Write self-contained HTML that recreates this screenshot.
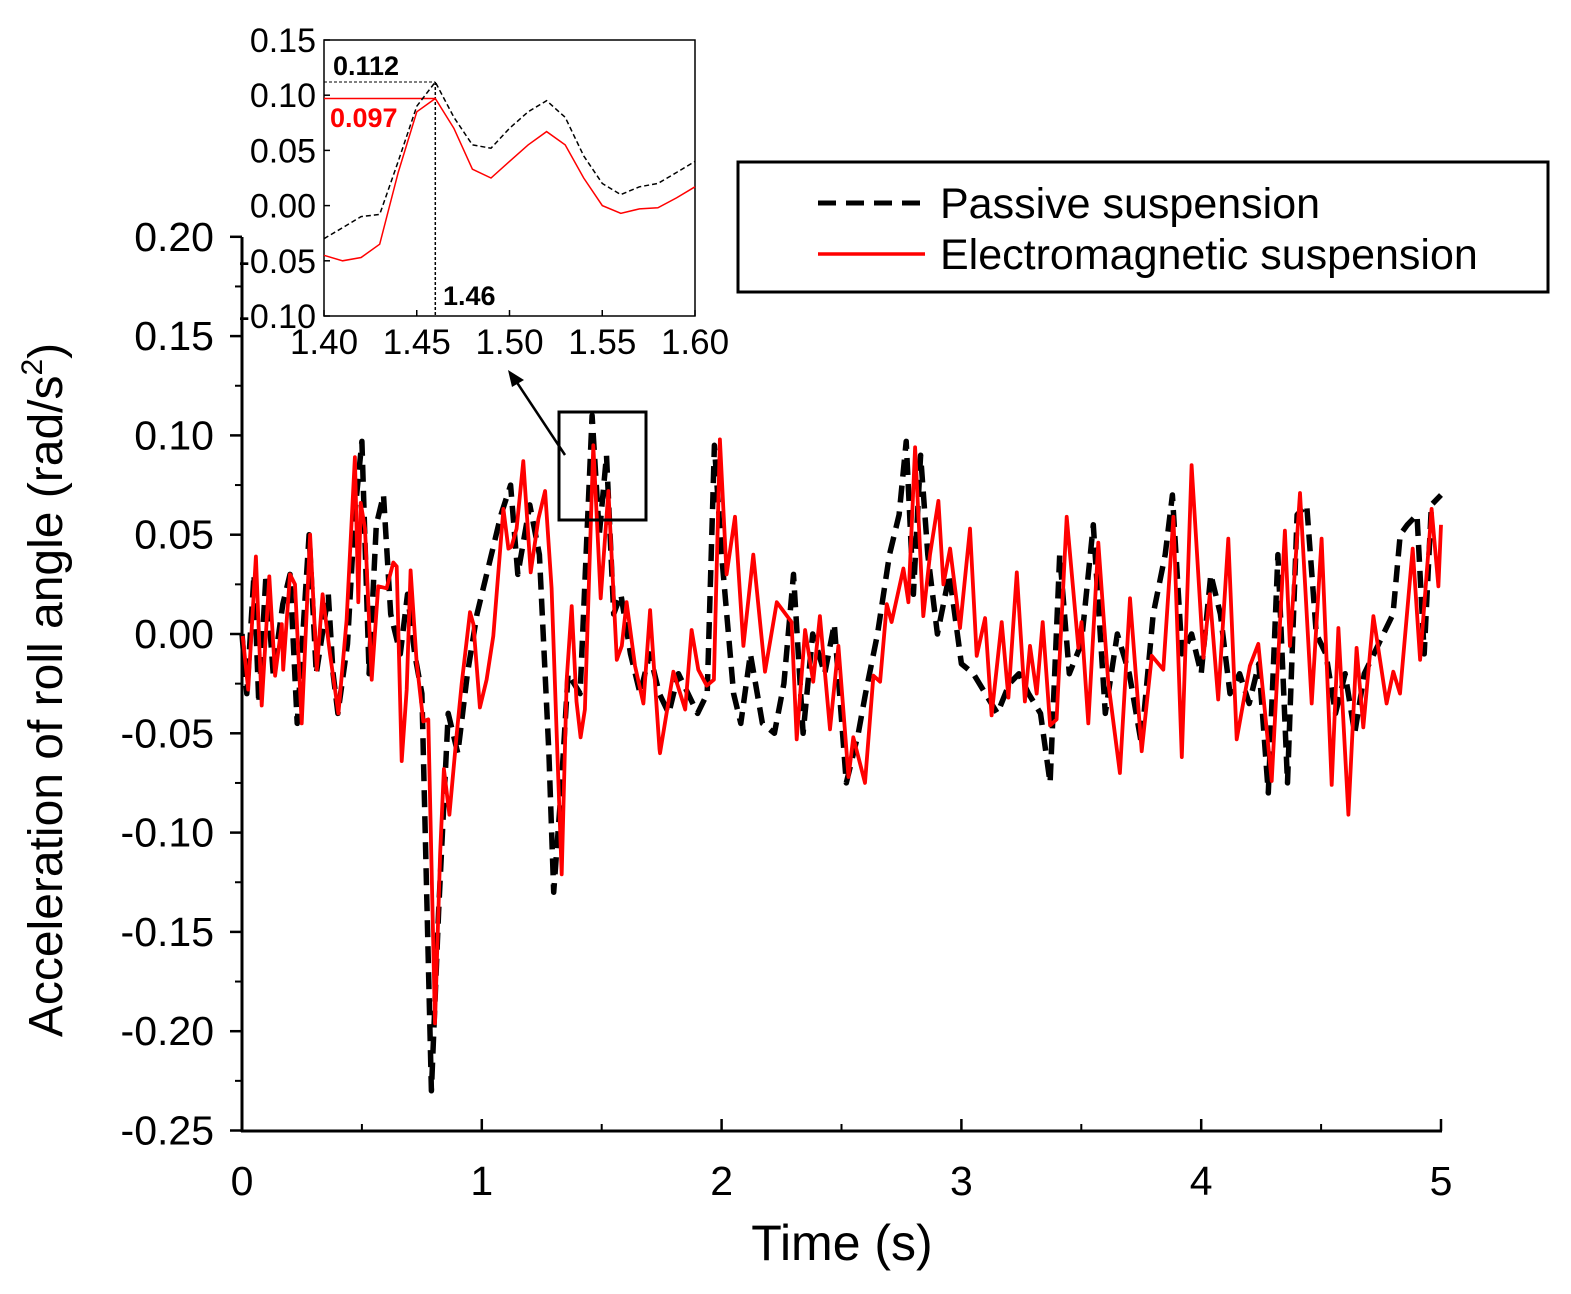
<!DOCTYPE html>
<html><head><meta charset="utf-8"><style>
body{margin:0;background:#fff}
svg{display:block;font-family:"Liberation Sans",Arial,sans-serif}
</style></head><body>
<svg id="chart" width="1571" height="1294" viewBox="0 0 1571 1294">
<g id="main"></g>
<g id="inset"></g>
<g id="legend">
<rect x="738" y="162" width="810" height="130" fill="#fff" stroke="#000" stroke-width="3"/>
<line x1="818" y1="203" x2="925" y2="203" stroke="#000" stroke-width="5" stroke-dasharray="18,10"/>
<text x="940" y="218" font-size="43">Passive suspension</text>
<line x1="818" y1="254" x2="925" y2="254" stroke="#f00" stroke-width="3.5"/>
<text x="940" y="269" font-size="43">Electromagnetic suspension</text>
</g>
<text x="842" y="1260" font-size="50" text-anchor="middle">Time (s)</text>
<text transform="translate(62,690) rotate(-90)" font-size="48" text-anchor="middle">Acceleration of roll angle (rad/s<tspan font-size="30" dy="-20">2</tspan><tspan dy="20">)</tspan></text>
<rect x="559" y="412" width="87" height="108" fill="none" stroke="#000" stroke-width="3"/>
<line x1="565" y1="455" x2="516" y2="381" stroke="#000" stroke-width="2.5"/>
<polygon points="508,370 524,380 512,387" fill="#000"/>
</svg>
<script>
const redT=[0.003,0.026,0.058,0.082,0.114,0.138,0.166,0.172,0.200,0.221,0.249,0.284,0.312,0.336,0.367,0.402,0.436,0.471,0.485,0.495,0.513,0.541,0.568,0.603,0.631,0.645,0.666,0.687,0.703,0.728,0.756,0.777,0.805,0.826,0.842,0.865,0.895,0.916,0.951,0.965,0.992,1.020,1.048,1.090,1.111,1.124,1.145,1.173,1.204,1.236,1.264,1.291,1.312,1.333,1.354,1.375,1.395,1.412,1.430,1.465,1.496,1.528,1.563,1.584,1.604,1.639,1.674,1.702,1.741,1.743,1.799,1.848,1.875,1.903,1.938,1.968,1.993,2.021,2.056,2.091,2.132,2.181,2.230,2.292,2.313,2.348,2.382,2.410,2.452,2.487,2.529,2.549,2.598,2.633,2.661,2.689,2.709,2.758,2.779,2.807,2.841,2.869,2.904,2.925,2.953,2.994,3.036,3.064,3.099,3.126,3.168,3.196,3.231,3.265,3.286,3.314,3.339,3.370,3.397,3.439,3.488,3.501,3.529,3.571,3.612,3.661,3.703,3.752,3.794,3.842,3.884,3.919,3.960,4.009,4.036,4.071,4.113,4.148,4.203,4.238,4.294,4.349,4.370,4.412,4.461,4.502,4.544,4.572,4.614,4.648,4.676,4.718,4.773,4.801,4.829,4.882,4.913,4.961,4.989,5.0];
const redV=[-0.001,-0.028,0.039,-0.036,0.029,-0.021,0.005,-0.018,0.030,0.025,-0.045,0.050,-0.018,0.020,-0.010,-0.040,0.007,0.089,0.016,0.066,0.053,-0.023,0.024,0.023,0.036,0.034,-0.064,-0.028,0.032,-0.014,-0.044,-0.043,-0.196,-0.111,-0.068,-0.091,-0.051,-0.025,0.011,0.005,-0.037,-0.023,-0.001,0.063,0.043,0.044,0.053,0.087,0.031,0.058,0.072,0.023,-0.049,-0.121,-0.023,0.014,-0.034,-0.052,-0.038,0.095,0.018,0.072,-0.013,-0.006,0.016,-0.016,-0.035,0.012,-0.058,-0.060,-0.019,-0.038,0.002,-0.018,-0.026,-0.023,0.098,0.030,0.059,-0.006,0.040,-0.019,0.016,0.006,-0.053,0.002,-0.024,0.009,-0.048,-0.006,-0.072,-0.052,-0.075,-0.021,-0.024,0.015,0.006,0.033,0.016,0.094,0.009,0.040,0.067,0.025,0.043,0.003,0.053,-0.011,0.008,-0.041,0.006,-0.032,0.031,-0.034,-0.006,-0.030,0.006,-0.046,-0.043,0.059,-0.007,0.006,-0.045,0.046,-0.024,-0.070,0.018,-0.059,-0.011,-0.018,0.059,-0.062,0.085,-0.012,0.020,-0.033,0.048,-0.053,-0.016,-0.005,-0.074,0.052,-0.006,0.071,-0.035,0.048,-0.076,0.003,-0.091,-0.007,-0.047,0.009,-0.035,-0.019,-0.030,0.043,-0.013,0.063,0.024,0.055,0.03];
const blkT=[0,0.02,0.05,0.07,0.1,0.13,0.17,0.2,0.23,0.28,0.31,0.36,0.38,0.4,0.44,0.47,0.5,0.53,0.56,0.59,0.62,0.66,0.69,0.72,0.75,0.79,0.82,0.86,0.9,0.94,0.98,1.03,1.08,1.12,1.15,1.2,1.24,1.28,1.3,1.33,1.36,1.41,1.46,1.49,1.52,1.55,1.58,1.62,1.66,1.7,1.74,1.78,1.82,1.86,1.9,1.94,1.97,2.0,2.05,2.08,2.12,2.17,2.22,2.26,2.3,2.34,2.38,2.43,2.47,2.52,2.57,2.6,2.65,2.7,2.74,2.77,2.8,2.83,2.86,2.9,2.95,3.0,3.05,3.1,3.15,3.2,3.24,3.28,3.33,3.37,3.41,3.45,3.5,3.55,3.6,3.65,3.7,3.75,3.8,3.85,3.88,3.92,3.96,4.0,4.04,4.08,4.12,4.16,4.2,4.24,4.28,4.32,4.36,4.4,4.44,4.48,4.52,4.56,4.6,4.64,4.68,4.72,4.76,4.8,4.83,4.86,4.9,4.93,4.96,5.0];
const blkV=[0.0,-0.03,0.03,-0.035,0.03,-0.02,0.015,0.03,-0.045,0.05,-0.02,0.02,-0.02,-0.04,-0.005,0.06,0.097,-0.02,0.055,0.07,0.01,-0.01,0.02,-0.01,-0.03,-0.23,-0.14,-0.04,-0.06,-0.02,0.01,0.035,0.06,0.075,0.03,0.065,0.04,-0.06,-0.13,-0.08,-0.02,-0.03,0.11,0.05,0.09,0.01,0.02,-0.01,-0.03,-0.01,-0.03,-0.04,-0.02,-0.03,-0.04,-0.03,0.095,0.04,-0.03,-0.045,-0.01,-0.045,-0.05,-0.025,0.03,-0.05,0.0,-0.02,0.005,-0.075,-0.05,-0.03,0.0,0.04,0.06,0.097,0.02,0.09,0.04,0.0,0.03,-0.015,-0.02,-0.03,-0.04,-0.025,-0.02,-0.03,-0.04,-0.075,0.04,-0.02,-0.005,0.055,-0.04,0.0,-0.02,-0.055,0.01,0.04,0.07,-0.01,0.0,-0.02,0.03,0.01,-0.03,-0.02,-0.035,-0.015,-0.08,0.04,-0.075,0.06,0.065,0.0,-0.01,-0.04,-0.02,-0.05,-0.02,-0.01,0.0,0.01,0.05,0.055,0.06,-0.01,0.065,0.07];
const insetT=[1.40,1.41,1.42,1.43,1.44,1.45,1.46,1.47,1.48,1.49,1.50,1.51,1.52,1.53,1.54,1.55,1.56,1.57,1.58,1.59,1.60];
const insetBlk=[-0.03,-0.02,-0.01,-0.008,0.04,0.09,0.112,0.08,0.055,0.052,0.07,0.085,0.095,0.08,0.045,0.02,0.01,0.017,0.02,0.03,0.04];
const insetRed=[-0.045,-0.05,-0.047,-0.035,0.03,0.085,0.097,0.07,0.033,0.025,0.04,0.055,0.067,0.055,0.025,0.0,-0.007,-0.003,-0.002,0.007,0.017];
const yTicks=["0.20","0.15","0.10","0.05","0.00","-0.05","-0.10","-0.15","-0.20","-0.25"];
const xTicks=["0","1","2","3","4","5"];
const inYTicks=["0.15","0.10","0.05","0.00","-0.05","-0.10"];
const inXTicks=["1.40","1.45","1.50","1.55","1.60"];

const NS="http://www.w3.org/2000/svg";
function mk(p,tag,a){const e=document.createElementNS(NS,tag);for(const k in a)e.setAttribute(k,a[k]);p.appendChild(e);return e;}
const X=t=>242+(t-0)/5*1199, Y=v=>634-v/0.05*99.3;
const iX=t=>324+(t-1.4)/0.2*371, iY=v=>40+(0.15-v)/0.25*276;
const main=document.getElementById('main'), inset=document.getElementById('inset');

let e=mk(main,'line',{x1:242,y1:237,x2:242,y2:1132,stroke:'#000','stroke-width':3});


e=mk(main,'line',{x1:241,y1:1131,x2:1442,y2:1131,stroke:'#000','stroke-width':3});


yTicks.forEach((s,i)=>{const v=parseFloat(s),y=Y(v);
 mk(main,'line',{x1:230,y1:y,x2:242,y2:y,stroke:'#000','stroke-width':2.5});
 if(i<yTicks.length-1)mk(main,'line',{x1:235,y1:Y(v-0.025),x2:242,y2:Y(v-0.025),stroke:'#000','stroke-width':2});
 const t=mk(main,'text',{x:214,y:y+14,'font-size':41,'text-anchor':'end'});t.textContent=s;
 
 });
xTicks.forEach((s,i)=>{const v=parseFloat(s),x=X(v);
 mk(main,'line',{x1:x,y1:1131,x2:x,y2:1119,stroke:'#000','stroke-width':2.5});
 if(i<xTicks.length-1)mk(main,'line',{x1:X(v+0.5),y1:1131,x2:X(v+0.5),y2:1124,stroke:'#000','stroke-width':2});
 const t=mk(main,'text',{x:x,y:1195,'font-size':41,'text-anchor':'middle'});t.textContent=s;
 
 });
function pts(T,V,fx,fy){return T.map((t,i)=>fx(t).toFixed(1)+','+fy(V[i]).toFixed(1)).join(' ');}
e=mk(main,'polyline',{points:pts(blkT,blkV,X,Y),fill:'none',stroke:'#000','stroke-width':5.5,'stroke-dasharray':'17,9','stroke-linejoin':'round'});


e=mk(main,'polyline',{points:pts(redT,redV,X,Y),fill:'none',stroke:'#f00','stroke-width':3.8,'stroke-linejoin':'round'});



e=mk(inset,'rect',{x:324,y:40,width:371,height:276,fill:'#fff',stroke:'#000','stroke-width':1.5});


inYTicks.forEach(s=>{const y=iY(parseFloat(s));
 mk(inset,'line',{x1:324,y1:y,x2:330,y2:y,stroke:'#000','stroke-width':1.5});
 const t=mk(inset,'text',{x:316,y:y+12,'font-size':34,'text-anchor':'end'});t.textContent=s;
 
 });
inXTicks.forEach(s=>{const x=iX(parseFloat(s));
 mk(inset,'line',{x1:x,y1:316,x2:x,y2:310,stroke:'#000','stroke-width':1.5});
 const t=mk(inset,'text',{x:x,y:354,'font-size':35,'text-anchor':'middle'});t.textContent=s;
 
 });
const pk=insetBlk[6], pr=insetRed[6], pt=insetT[6];
mk(inset,'line',{x1:324,y1:iY(pk),x2:iX(pt),y2:iY(pk),stroke:'#000','stroke-width':1,'stroke-dasharray':'3,2'});
mk(inset,'line',{x1:iX(pt),y1:iY(pk),x2:iX(pt),y2:316,stroke:'#000','stroke-width':1.5,'stroke-dasharray':'3,2'});
mk(inset,'line',{x1:324,y1:iY(pr),x2:iX(pt),y2:iY(pr),stroke:'#f00','stroke-width':1.5});
e=mk(inset,'polyline',{points:pts(insetT,insetBlk,iX,iY),fill:'none',stroke:'#000','stroke-width':1.5,'stroke-dasharray':'5,3'});


e=mk(inset,'polyline',{points:pts(insetT,insetRed,iX,iY),fill:'none',stroke:'#f00','stroke-width':1.5});


let t=mk(inset,'text',{x:333,y:75,'font-size':27,'font-weight':'bold'});t.textContent=pk.toFixed(3);


t=mk(inset,'text',{x:330,y:127,'font-size':27,'font-weight':'bold',fill:'#f00'});t.textContent=pr.toFixed(3);


t=mk(inset,'text',{x:443,y:305,'font-size':27,'font-weight':'bold'});t.textContent=pt.toFixed(2);


</script>
</body></html>
